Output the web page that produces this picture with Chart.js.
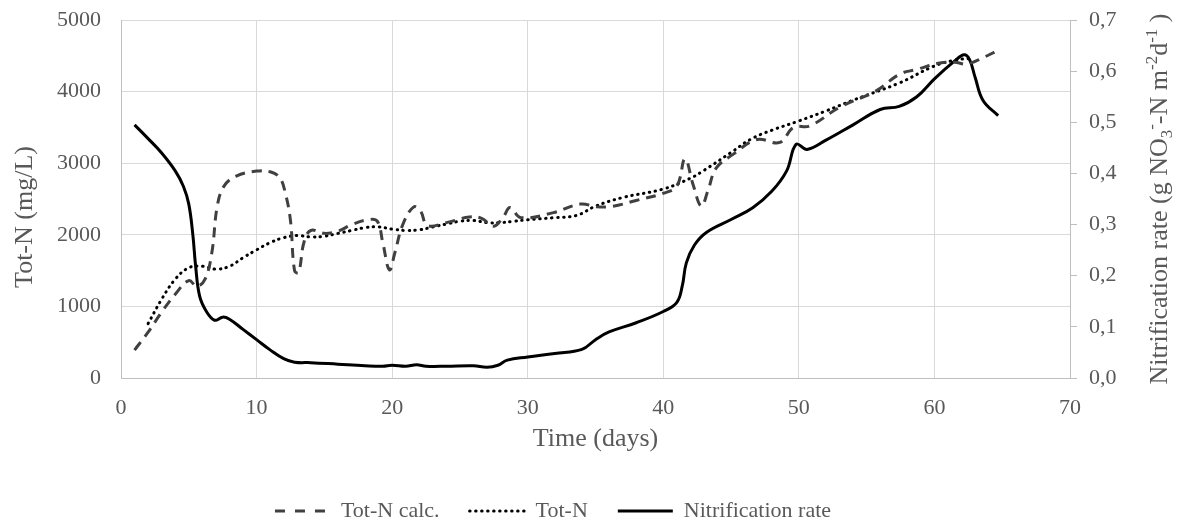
<!DOCTYPE html>
<html>
<head>
<meta charset="utf-8">
<script src="https://cdn.jsdelivr.net/npm/chart.js@4"></script>
<style>
html,body{margin:0;padding:0;background:#fff;}
canvas{display:block;}
</style>
</head>
<body>
<canvas id="c" width="1182" height="524"></canvas>
<script>
// ---- Data ----
const calcDays = [1,2,3,4,5,5.6,6.2,6.7,7.1,7.6,8.5,10,11,11.7,12.1,12.5,12.8,13.1,13.5,14,15,16,17,18.2,18.9,19.3,19.8,20.2,20.8,21.6,22.1,22.6,24,25.7,26.6,27.5,28.2,28.7,29.5,31.9,33.9,35.1,36.3,38,40,41,41.6,42.2,42.8,43.3,43.9,45.2,46.9,48.6,49.6,50.8,53,55.7,57.4,58.7,60.4,61.5,62.4,63.6,64.7];
const calcTotN = [390,640,920,1170,1360,1280,1380,1750,2400,2680,2820,2890,2880,2800,2600,2200,1500,1470,1900,2060,2020,2050,2140,2210,2190,1900,1510,1750,2150,2390,2330,2130,2170,2250,2230,2120,2250,2380,2240,2310,2430,2390,2400,2480,2580,2680,3060,2700,2400,2620,2930,3130,3330,3290,3500,3520,3780,4010,4240,4310,4400,4410,4385,4475,4578];

const totNDays = [2,3,4,5,6,7,8,9,10,11,12,13,14,15,16,17,18,19,20,21,22,23,24,25,26,27,28,29,30,32,33.6,35,37,40,42,43,45,46.5,48,50,52,54,57.4,59.9,61.5,62.5];
const totN = [760,1100,1380,1540,1560,1520,1560,1680,1790,1890,1960,1990,1970,1980,2020,2060,2100,2110,2080,2060,2070,2110,2150,2190,2200,2170,2170,2190,2210,2240,2270,2400,2520,2640,2790,2900,3150,3340,3460,3590,3730,3880,4120,4350,4440,4460];

const nitDays = [1,2,3,4,4.6,5,5.3,5.5,5.8,6.3,6.9,7.5,8,9,10,11,12,12.8,14,16,18,19.3,20,21,21.8,22.5,24,26,27,27.8,28.5,30,32,34,35,36,38,40,41,41.4,41.7,42.3,43.2,45,46.6,48,49.1,49.8,50.6,52,54,56,57.4,58.7,60,61.5,62.2,62.6,63,63.6,64.7];
const nitRate = [0.495,0.468,0.44,0.405,0.375,0.34,0.28,0.22,0.16,0.13,0.113,0.119,0.115,0.095,0.075,0.055,0.038,0.031,0.03,0.027,0.024,0.023,0.025,0.023,0.026,0.023,0.023,0.024,0.021,0.025,0.035,0.041,0.048,0.056,0.075,0.09,0.108,0.13,0.148,0.18,0.225,0.26,0.285,0.31,0.333,0.365,0.405,0.457,0.447,0.465,0.495,0.525,0.531,0.55,0.585,0.62,0.632,0.622,0.588,0.542,0.513];

const xTicks = [0,10,20,30,40,50,60,70];
const leftTicks = [0,1000,2000,3000,4000,5000];
const rightTicks = [0,0.1,0.2,0.3,0.4,0.5,0.6,0.7];

const seriesNames = ['Tot-N calc.','Tot-N','Nitrification rate'];

// ---- helpers ----
const pts = (xs, ys) => xs.map((x, i) => ({x: x, y: ys[i]}));
const FONT = "'Liberation Serif','Times New Roman',serif";
const TXT = '#595959';

function drawRotated(ctx, parts, bx, cy) {
  ctx.save();
  ctx.fillStyle = TXT;
  ctx.textBaseline = 'alphabetic';
  ctx.textAlign = 'left';
  let total = 0;
  parts.forEach(p => { ctx.font = p.f; p.w = ctx.measureText(p.t).width; total += p.w; });
  ctx.translate(bx, cy);
  ctx.rotate(-Math.PI / 2);
  let x = -total / 2;
  parts.forEach(p => { ctx.font = p.f; ctx.fillText(p.t, x, p.dy); x += p.w; });
  ctx.restore();
}

const axisTitles = {
  id: 'axisTitles',
  afterLayout(chart) {
    const l = chart.legend;
    if (l) { l.left -= 38; l.right -= 38; l.top += 8; l.bottom += 8; }
  },
  afterDraw(chart) {
    const ctx = chart.ctx;
    const big = '26px ' + FONT;
    const small = '17px ' + FONT;
    drawRotated(ctx, [{t: 'Tot-N (mg/L)', f: big, dy: 0}], 32, 217);
    drawRotated(ctx, [
      {t: 'Nitrification rate (g NO', f: big, dy: 0},
      {t: '3', f: small, dy: 5},
      {t: '-', f: small, dy: -10},
      {t: '-N m', f: big, dy: 0},
      {t: '-2', f: small, dy: -10},
      {t: 'd', f: big, dy: 0},
      {t: '-1', f: small, dy: -10},
      {t: ' )', f: big, dy: 0}
    ], 1167, 199);
  }
};

new Chart(document.getElementById('c'), {
  type: 'line',
  data: {
    datasets: [
      {
        label: seriesNames[0],
        data: pts(calcDays, calcTotN),
        yAxisID: 'y',
        borderColor: '#404040',
        backgroundColor: '#404040',
        borderWidth: 3,
        borderDash: [10, 7],
        pointRadius: 0,
        tension: 0.4,
        fill: false
      },
      {
        label: seriesNames[1],
        data: pts(totNDays, totN),
        yAxisID: 'y',
        borderColor: '#000000',
        backgroundColor: '#000000',
        borderWidth: 3,
        borderDash: [0.5, 5.5],
        borderCapStyle: 'round',
        pointRadius: 0,
        tension: 0.4,
        fill: false
      },
      {
        label: seriesNames[2],
        data: pts(nitDays, nitRate),
        yAxisID: 'y1',
        borderColor: '#000000',
        backgroundColor: '#000000',
        borderWidth: 3,
        pointRadius: 0,
        tension: 0.4,
        fill: false
      }
    ]
  },
  options: {
    responsive: false,
    animation: false,
    events: [],
    layout: {padding: {left: 0, right: 0, top: 20, bottom: 0}},
    plugins: {
      legend: {
        position: 'bottom',
        labels: {
          usePointStyle: true,
          pointStyle: 'line',
          pointStyleWidth: 55,
          boxHeight: 20,
          padding: 30,
          color: TXT,
          font: {family: FONT, size: 22},
          generateLabels(chart) {
            const items = Chart.defaults.plugins.legend.labels.generateLabels(chart);
            items.forEach((it, i) => {
              const ds = chart.data.datasets[i];
              it.lineDash = i === 0 ? [10, 10] : (ds.borderDash || []);
              it.lineCap = ds.borderCapStyle || 'butt';
              it.lineWidth = ds.borderWidth;
              it.strokeStyle = ds.borderColor;
              it.fillStyle = ds.borderColor;
              it.pointStyle = 'line';
            });
            return items;
          }
        }
      },
      tooltip: {enabled: false}
    },
    scales: {
      x: {
        type: 'linear',
        min: 0, max: 70,
        afterBuildTicks(s) { s.ticks = xTicks.map(v => ({value: v})); },
        afterFit(s) { s.height = 84; },
        ticks: {color: TXT, font: {family: FONT, size: 22}, padding: 17, maxRotation: 0},
        grid: {color: '#d9d9d9', drawTicks: false},
        border: {color: '#bfbfbf'},
        title: {display: true, text: 'Time (days)', color: TXT, font: {family: FONT, size: 26}, padding: {top: 0, bottom: 7}}
      },
      y: {
        position: 'left',
        min: 0, max: 5000,
        afterBuildTicks(s) { s.ticks = leftTicks.map(v => ({value: v})); },
        afterFit(s) { s.width = 121; },
        ticks: {color: TXT, font: {family: FONT, size: 22}, padding: 5, callback: v => String(v)},
        grid: {color: '#d9d9d9', drawTicks: true, tickLength: 15, tickColor: 'rgba(0,0,0,0)'},
        border: {color: '#bfbfbf'}
      },
      y1: {
        position: 'right',
        min: 0, max: 0.7,
        afterBuildTicks(s) { s.ticks = rightTicks.map(v => ({value: v})); },
        afterFit(s) { s.width = 112; },
        ticks: {color: TXT, font: {family: FONT, size: 22}, padding: 5, callback: v => v.toFixed(1).replace('.', ',')},
        grid: {drawOnChartArea: false, drawTicks: true, tickLength: 14, tickBorderDash: [6, 40], tickColor: '#bfbfbf', color: '#bfbfbf'},
        border: {color: '#bfbfbf'}
      }
    }
  },
  plugins: [axisTitles]
});
</script>
</body>
</html>
